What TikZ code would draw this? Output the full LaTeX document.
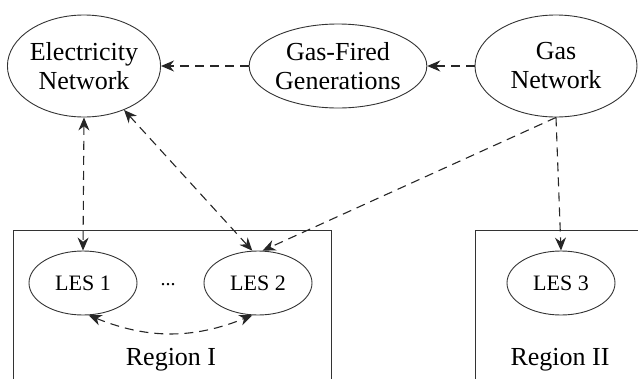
\documentclass[tikz,border=0pt]{standalone}
\usepackage{fontspec}
\setmainfont{Liberation Serif}
\usetikzlibrary{shapes.geometric, arrows.meta, positioning}

\begin{document}
\begin{tikzpicture}[
    x=1pt, y=-1pt,
    net/.style    = {ellipse, draw=black!80, line width=0.9pt, inner sep=0pt, align=center, font=\fontsize{26}{29}\selectfont},
    les/.style    = {ellipse, draw=black!80, line width=0.9pt, inner sep=0pt, minimum width=108pt, minimum height=64pt, font=\fontsize{22}{25}\selectfont},
    region/.style = {draw=black!80, line width=0.9pt},
    label/.style  = {font=\fontsize{26}{29}\selectfont},
    flow/.style   = {draw=black!85, line width=1.1pt, dash pattern=on 9pt off 6pt, -{Stealth[length=13pt, width=11pt]}},
    flows/.style  = {flow, {Stealth[length=13pt, width=11pt]}-{Stealth[length=13pt, width=11pt]}}
]
\useasboundingbox (0,0) rectangle (638,378);

% Networks
\node (elec) [net, minimum width=142pt, minimum height=102pt] at (84, 66)  {Electricity\\Network};
\node (gfg)  [net, minimum width=142pt, minimum height=84pt]  at (338, 66) {Gas-Fired\\Generations};
\node (gas)  [net, minimum width=162pt, minimum height=102pt] at (556, 66) {Gas\\Network};

% Regions
\draw [region] (13, 380) -- (13, 230) -- (331, 230) -- (331, 380);
\draw [region] (475, 380) -- (475, 230) -- (640, 230);

% Local energy systems
\node (les1) [les] at (83, 283)  {LES 1};
\node (les2) [les] at (258, 283) {LES 2};
\node (les3) [les] at (561, 283) {LES 3};
\node (dots) [font=\fontsize{20}{22}\selectfont] at (168, 285) {...};

\node (reg1) [label] at (171, 360) {Region I};
\node (reg2) [label] at (560, 360) {Region II};

% Flows
\draw [flow] (gfg) -- (elec);
\draw [flow] (gas) -- (gfg);
\draw [flows] (elec.south) -- (les1.north);
\draw [flows] (elec) -- (les2.100);
\draw [flow] (gas.south) -- (les2.82);
\draw [flow] (gas.south) -- (les3.north);
\draw [flows] (les1.-80) to[bend right=22] (les2.-100);

\end{tikzpicture}
\end{document}
